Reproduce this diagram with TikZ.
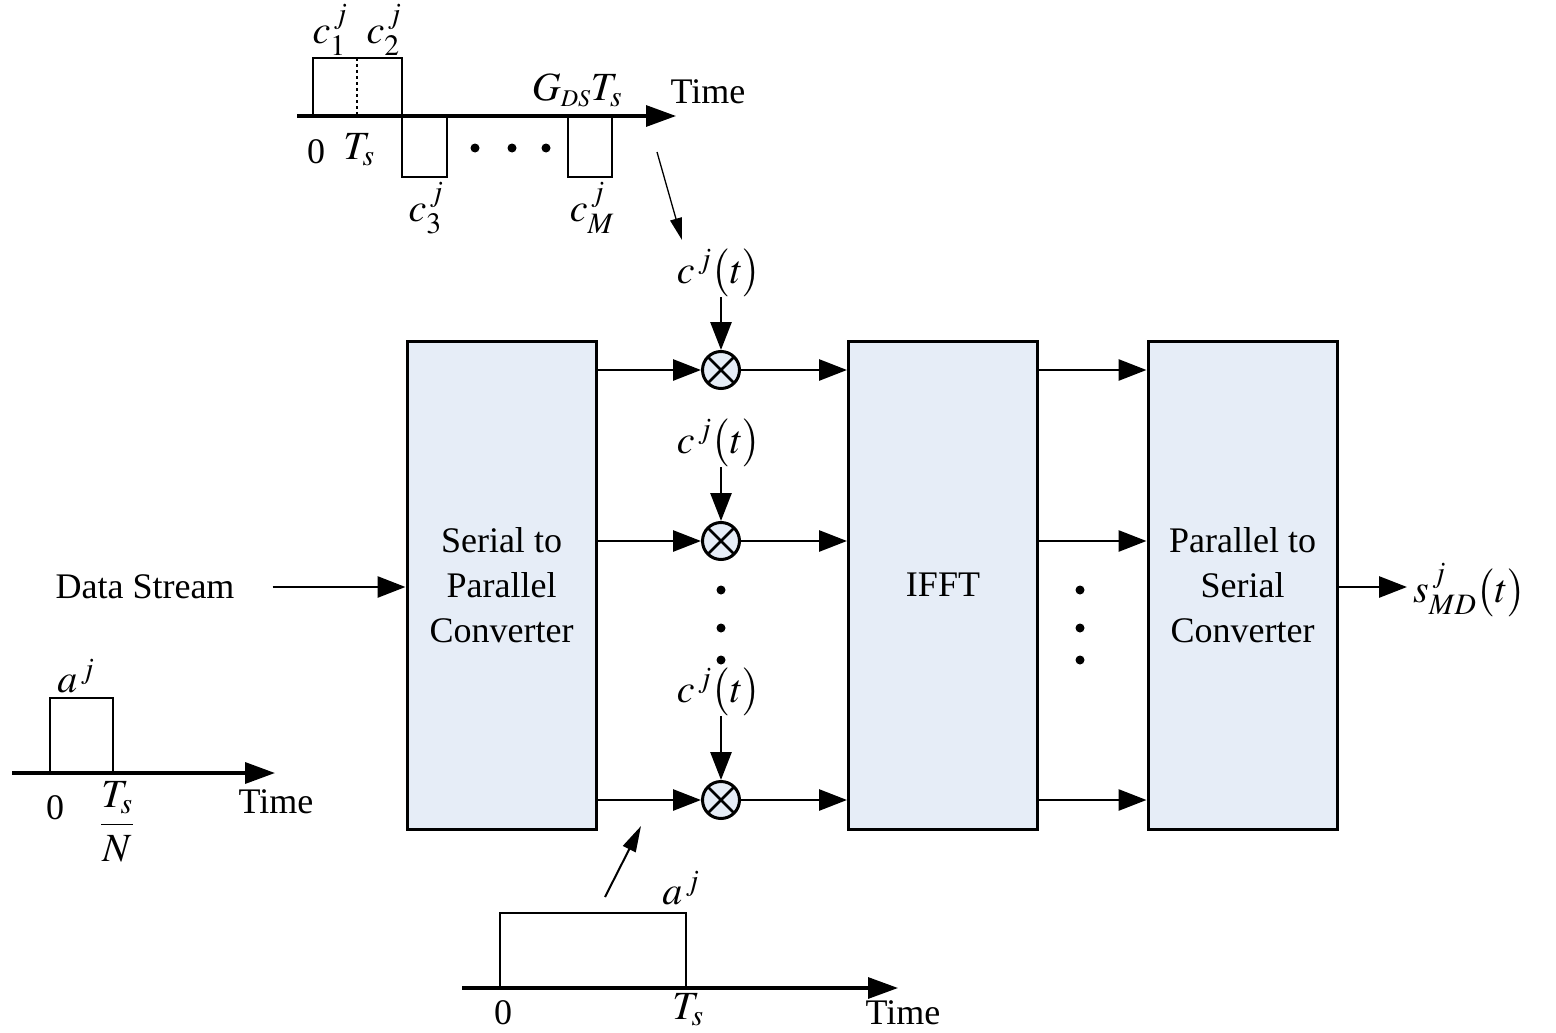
\documentclass[tikz,border=0pt]{standalone}
\usepackage{mathptmx}
\usepackage{fontspec}
\setmainfont{Liberation Serif}
\usetikzlibrary{arrows.meta, positioning}
\definecolor{blockfill}{HTML}{E6EDF7}
\tikzset{
  block/.style={draw=black, fill=blockfill, line width=3pt, minimum width=189pt,
    minimum height=488pt, align=center, inner sep=0pt, font=\fontsize{36}{45}\selectfont},
  mixer/.style={circle, draw=black, fill=blockfill, line width=3pt, minimum size=37pt, inner sep=0pt,
    path picture={\draw[line width=2.8pt] (path picture bounding box.north west)--(path picture bounding box.south east)
      (path picture bounding box.north east)--(path picture bounding box.south west);}},
  flow/.style={-{Triangle[length=28pt,width=21pt]}, line width=2.8pt},
  thinflow/.style={-{Triangle[length=22pt,width=12pt]}, line width=1.3pt},
  axis/.style={-{Triangle[length=30pt,width=21pt]}, line width=3.2pt},
  pulse/.style={line width=2.8pt},
  lbl/.style={inner sep=0pt, font=\fontsize{36}{45}\selectfont},
  mlbl/.style={inner sep=0pt, font=\fontsize{40}{48}\selectfont},
  dotmark/.style={circle, fill=black, inner sep=0pt, minimum size=9pt}
}
\begin{document}
\begin{tikzpicture}[x=1pt, y=-1pt]
\useasboundingbox (0,0) rectangle (1556,1033);
% blocks
\node[block] (sp) at (501.5,585) {Serial to\\Parallel\\Converter};
\node[block] (ifft) at (943,585) {IFFT};
\node[block] (ps) at (1242.5,585) {Parallel to\\Serial\\Converter};
% mixers
\node[mixer] (mA) at (721,370) {};
\node[mixer] (mB) at (721,541) {};
\node[mixer] (mC) at (721,800) {};
\node[mlbl] (cA) at (719,273) {$c^{\,j}\bigl(t\bigr)$};
\node[mlbl] (cB) at (719,443) {$c^{\,j}\bigl(t\bigr)$};
\node[mlbl] (cC) at (719,692) {$c^{\,j}\bigl(t\bigr)$};
\draw[flow] (cA.south -| mA) -- (mA);
\draw[flow] (cB.south -| mB) -- (mB);
\draw[flow] (cC.south -| mC) -- (mC);
\foreach \m in {mA,mB,mC}{
  \draw[flow] (sp.east |- \m) -- (\m);
  \draw[flow] (\m) -- (ifft.west |- \m);
  \draw[flow] (ifft.east |- \m) -- (ps.west |- \m);
}
\foreach \y in {590,628,660}{
  \node[dotmark] at (721,\y) {};
  \node[dotmark] at (1080,\y) {};
}
% input and output
\node[lbl] (data) at (145,587) {Data Stream};
\draw[flow, shorten <=38pt] (data.east) -- (sp.west |- data);
\node[mlbl, anchor=west] (out) at (1413,590) {$s^{\,j}_{MD}\bigl(t\bigr)$};
\draw[flow] (ps.east |- 0,587) -- ([xshift=-6pt]out.west |- 0,587);
% spreading code waveform
\draw[axis] (297,116) -- (676,116);
\draw[line width=1.8pt] (313,116) -- (313,58) -- (402,58) -- (402,177) -- (447,177) -- (447,116);
\draw[line width=1.8pt] (568,116) -- (568,177) -- (612,177) -- (612,116);
\draw[dashed, line width=1.2pt] (357,58) -- (357,116);
\foreach \x in {475,512,546} \node[dotmark] at (\x,148) {};
\node[mlbl] (c1) at (330,30) {$c_1^{\,j}$};
\node[mlbl] (c2) at (384,30) {$c_2^{\,j}$};
\node[mlbl] (c3) at (426,208) {$c_3^{\,j}$};
\node[mlbl] (cM) at (592,208) {$c_M^{\,j}$};
\node[lbl] (z1) at (316,152) {0};
\node[mlbl] (ts1) at (359,150) {$T_s$};
\node[mlbl] (gds) at (577,90) {$G_{\scriptscriptstyle DS}T_s$};
\node[lbl] (time1) at (708,92) {Time};
\coordinate (ctail) at (657,152);
\coordinate (chead) at (682,240);
\draw[thinflow] (ctail) -- (chead);
% data symbol waveform
\draw[axis, line width=3.5pt] (12,773) -- (275,773);
\draw[pulse] (50,773) -- (50,698) -- (113,698) -- (113,773);
\node[mlbl] (a1) at (76,676) {$a^{\,j}$};
\node[lbl] (z2) at (55,808) {0};
\node[mlbl] (tsn) at (117,822) {$\displaystyle\frac{T_s}{N}$};
\node[lbl] (time2) at (276,802) {Time};
% spread symbol waveform
\draw[axis] (462,988) -- (898,988);
\draw[pulse] (500,988) -- (500,913) -- (686,913) -- (686,988);
\node[mlbl] (a2) at (681,888) {$a^{\,j}$};
\node[lbl] (z3) at (503,1013) {0};
\node[mlbl] (ts2) at (688,1010) {$T_s$};
\node[lbl] (time3) at (903,1013) {Time};
\coordinate (atail) at (605,897);
\coordinate (ahead) at (641,826);
\draw[thinflow, line width=2pt, -{Triangle[length=26pt,width=14pt]}] (atail) -- (ahead);
\end{tikzpicture}
\end{document}
